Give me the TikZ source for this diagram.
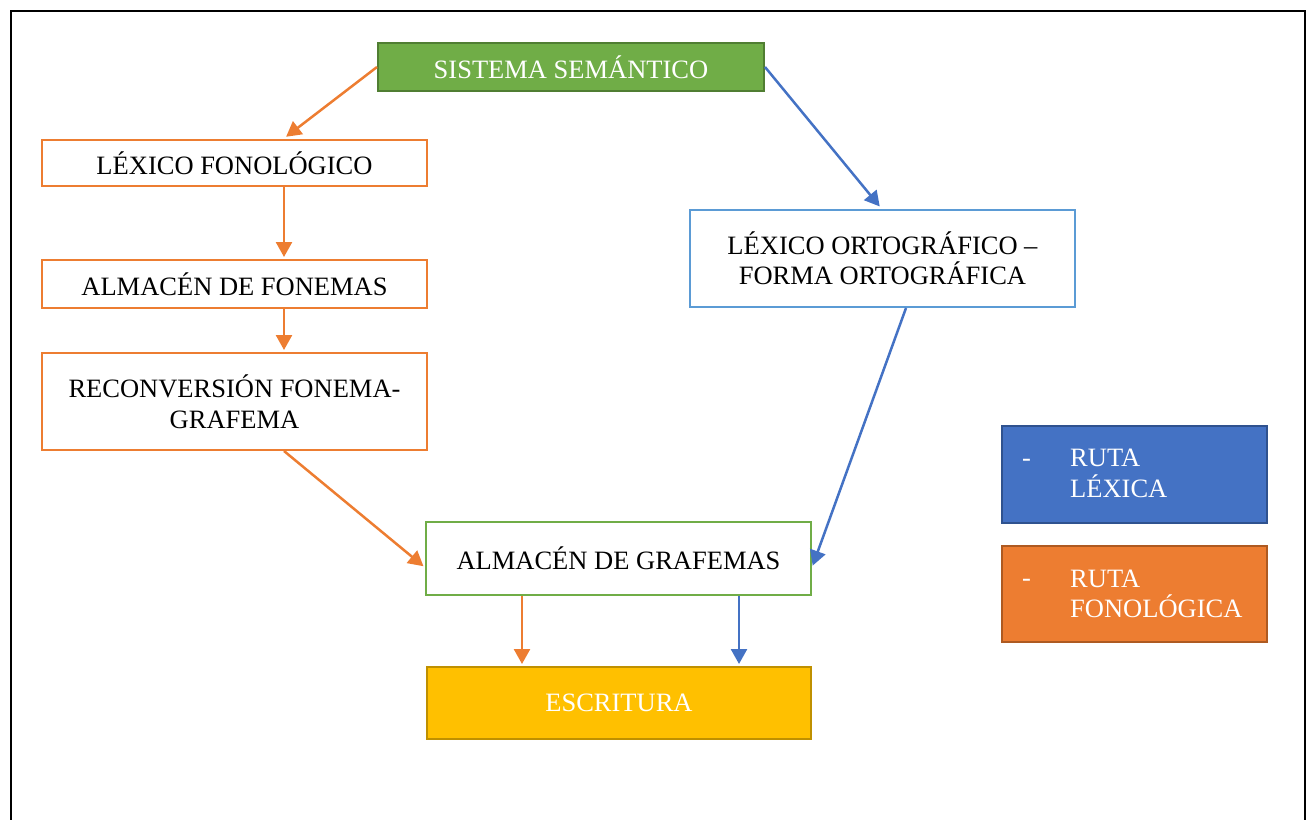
\documentclass[tikz,border=0pt]{standalone}
\usepackage{fontspec}
\setmainfont{Liberation Serif}
\usetikzlibrary{arrows.meta,calc}
\definecolor{cgreen}{HTML}{70AD47}
\definecolor{cgreend}{HTML}{507E32}
\definecolor{corange}{HTML}{ED7D31}
\definecolor{coranged}{HTML}{AE5A21}
\definecolor{cblue}{HTML}{4472C4}
\definecolor{cblued}{HTML}{2F528F}
\definecolor{clblue}{HTML}{5B9BD5}
\definecolor{cyellow}{HTML}{FFC000}
\definecolor{cyellowd}{HTML}{BF9000}
\begin{document}
\begin{tikzpicture}[x=1pt,y=-1pt,
  every node/.style={font=\fontsize{26.5}{30.5}\selectfont, inner sep=0pt, align=center},
  box/.style={draw, line width=2pt, rectangle, fill=white},
  oarrow/.style={draw=corange, line width=2.5pt, -{Triangle[length=15pt,width=16pt]}, shorten >=2pt},
  barrow/.style={draw=cblue, line width=2.5pt, -{Triangle[length=15pt,width=16pt]}, shorten >=2pt}]
\useasboundingbox (0,0) rectangle (1311,819);
\draw[line width=2.5pt] (11,11) rectangle (1305,840);

\node[box, draw=cgreend, fill=cgreen, text=white, minimum width=386pt, minimum height=48pt] (sem) at (571,67) {SISTEMA SEMÁNTICO};
\node[box, draw=corange, minimum width=385pt, minimum height=46pt] (lexfon) at (234.5,163) {LÉXICO FONOLÓGICO};
\node[box, draw=corange, minimum width=385pt, minimum height=48pt] (fonemas) at (234.5,284) {ALMACÉN DE FONEMAS};
\node[box, draw=corange, minimum width=385pt, minimum height=97pt] (reconv) at (234.5,401.5) {RECONVERSIÓN FONEMA-\\GRAFEMA};
\node[box, draw=clblue, minimum width=385pt, minimum height=97pt] (orto) at (882.5,258.5) {LÉXICO ORTOGRÁFICO –\\FORMA ORTOGRÁFICA};
\node[box, draw=cgreen, minimum width=385pt, minimum height=73pt] (graf) at (618.5,558.5) {ALMACÉN DE GRAFEMAS};
\node[box, draw=cyellowd, fill=cyellow, text=white, minimum width=384pt, minimum height=72pt] (escr) at (619,703) {ESCRITURA};

\node[box, draw=cblued, fill=cblue, minimum width=265pt, minimum height=97pt] (leglex) at (1134.5,474.5) {};
\node[box, draw=coranged, fill=corange, minimum width=265pt, minimum height=96pt] (legfon) at (1134.5,594) {};
\node[text=white, anchor=base west] (dash1) at (1022,466) {-};
\node[text=white, anchor=west, align=left] (t1) at (1070,473.5) {RUTA\\LÉXICA};
\node[text=white, anchor=base west] (dash2) at (1022,586) {-};
\node[text=white, anchor=west, align=left] (t2) at (1070,594) {RUTA\\FONOLÓGICA};

\draw[oarrow] (sem.west) -- ($(lexfon.north)+(50,-1)$);
\draw[oarrow] ($(lexfon.south)+(49.5,0)$) -- ($(fonemas.north)+(49.5,0)$);
\draw[oarrow] ($(fonemas.south)+(49.5,0)$) -- ($(reconv.north)+(49.5,0)$);
\draw[oarrow] ($(reconv.south)+(49.5,0)$) -- ($(graf.west)+(0,9)$);
\draw[barrow] (sem.east) -- ($(orto.north)+(-1.5,-1)$);
\draw[barrow] ($(orto.south)+(23.5,0)$) -- ($(graf.east)+(0,9)$);
\draw[oarrow] ($(graf.south)+(-96.5,0)$) -- ($(escr.north)+(-97,0)$);
\draw[barrow] ($(graf.south)+(120.5,0)$) -- ($(escr.north)+(120,0)$);
\end{tikzpicture}
\end{document}
